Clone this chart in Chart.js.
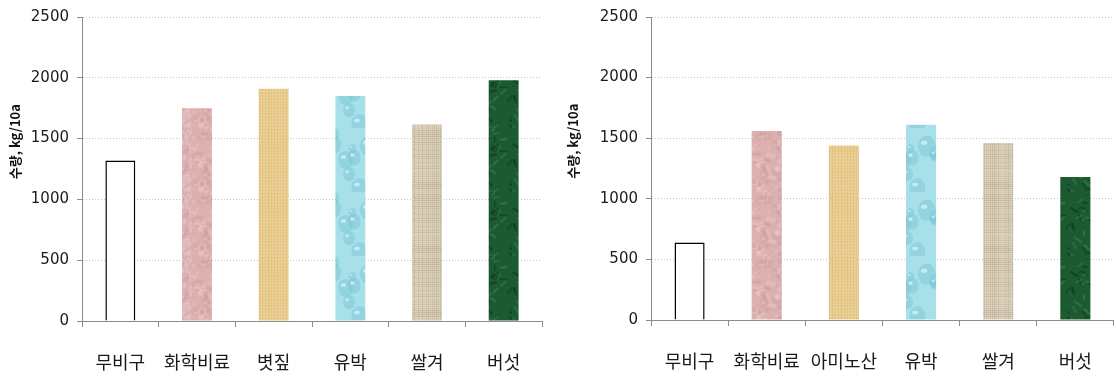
<!DOCTYPE html>
<html>
<head>
<meta charset="utf-8">
<script src="https://cdn.jsdelivr.net/npm/chart.js@4"></script>
<style>
  html, body { margin: 0; padding: 0; background: #fff; }
  .wrap { position: absolute; top: 0; width: 558px; height: 376px; }
  #w1 { left: 0; }
  #w2 { left: 558px; }
</style>
</head>
<body>
<div class="wrap" id="w1"><canvas id="c1" width="558" height="376"></canvas></div>
<div class="wrap" id="w2"><canvas id="c2" width="558" height="376"></canvas></div>
<script>
// chart data
const leftLabels = ['무비구', '화학비료', '볏짚', '유박', '쌀겨', '버섯'];
const leftValues = [1320, 1750, 1910, 1850, 1615, 1980];
const rightLabels = ['무비구', '화학비료', '아미노산', '유박', '쌀겨', '버섯'];
const rightValues = [640, 1560, 1440, 1610, 1460, 1180];
const yTicks = [0, 500, 1000, 1500, 2000, 2500];
const yTitle = '수량, kg/10a';

// simple seeded generator, only used for texture look
let seed = 7;
function rnd() {
    seed = (seed * 16807) % 2147483647;
    return (seed - 1) / 2147483646;
}

function makeTexture(kind) {
    const c = document.createElement('canvas');
    c.width = 64; c.height = 64;
    const g = c.getContext('2d');
    if (kind === 'pink') {
        g.fillStyle = '#dcb0b0'; g.fillRect(0, 0, 64, 64);
        for (let i = 0; i < 220; i++) {
            g.fillStyle = rnd() > 0.5 ? 'rgba(240,205,205,0.35)' : 'rgba(200,150,150,0.3)';
            g.fillRect(rnd() * 64, rnd() * 64, 2 + rnd() * 4, 2 + rnd() * 4);
        }
    } else if (kind === 'tan') {
        g.fillStyle = '#e8cb8e'; g.fillRect(0, 0, 64, 64);
        for (let i = 0; i < 64; i += 3) {
            g.fillStyle = 'rgba(210,170,100,' + (0.15 + rnd() * 0.2) + ')';
            g.fillRect(i, 0, 1, 64);
            g.fillStyle = 'rgba(245,225,175,' + (0.2 + rnd() * 0.2) + ')';
            g.fillRect(0, i, 64, 1);
        }
    } else if (kind === 'aqua') {
        g.fillStyle = '#a8e0ea'; g.fillRect(0, 0, 64, 64);
        for (let i = 0; i < 14; i++) {
            const x = rnd() * 64, y = rnd() * 64, r = 3 + rnd() * 6;
            g.fillStyle = 'rgba(120,195,210,0.45)';
            g.beginPath(); g.ellipse(x, y, r, r * 1.2, 0, 0, Math.PI * 2); g.fill();
            g.fillStyle = 'rgba(235,252,255,0.6)';
            g.beginPath(); g.ellipse(x - r * 0.3, y - r * 0.4, r * 0.35, r * 0.25, 0, 0, Math.PI * 2); g.fill();
        }
    } else if (kind === 'linen') {
        g.fillStyle = '#ddd2bc'; g.fillRect(0, 0, 64, 64);
        for (let i = 0; i < 64; i += 2) {
            g.fillStyle = 'rgba(150,135,110,' + (rnd() * 0.3) + ')';
            g.fillRect(i, 0, 1, 64);
            g.fillStyle = 'rgba(150,135,110,' + (rnd() * 0.3) + ')';
            g.fillRect(0, i, 64, 1);
        }
    } else if (kind === 'green') {
        g.fillStyle = '#1c5a32'; g.fillRect(0, 0, 64, 64);
        for (let i = 0; i < 60; i++) {
            g.strokeStyle = rnd() > 0.5 ? 'rgba(80,150,100,0.35)' : 'rgba(10,50,25,0.5)';
            g.lineWidth = 1 + rnd() * 1.5;
            g.beginPath();
            const x = rnd() * 64, y = rnd() * 64;
            g.moveTo(x, y);
            g.lineTo(x + (rnd() - 0.5) * 16, y + (rnd() - 0.5) * 16);
            g.stroke();
        }
    }
    return g.createPattern(c, 'repeat');
}

const fills = ['#ffffff', makeTexture('pink'), makeTexture('tan'), makeTexture('aqua'), makeTexture('linen'), makeTexture('green')];
const borders = ['#000000', 'rgba(0,0,0,0)', 'rgba(0,0,0,0)', 'rgba(0,0,0,0)', 'rgba(0,0,0,0)', 'rgba(0,0,0,0)'];

// y axis title drawn by hand so it can sit a bit above the middle
const yTitlePlugin = {
    id: 'yTitle',
    afterDraw(chart) {
        const ctx = chart.ctx;
        const area = chart.chartArea;
        ctx.save();
        ctx.translate(15, area.top + (area.bottom - area.top) * 0.41);
        ctx.rotate(-Math.PI / 2);
        ctx.font = 'bold 13px "Noto Sans CJK KR"';
        ctx.fillStyle = '#111';
        ctx.textAlign = 'center';
        ctx.textBaseline = 'middle';
        ctx.fillText(yTitle, 0, 0);
        ctx.restore();
    }
};

function buildChart(id, labels, values, axisX, rightPad, top, bottom) {
    const ctx = document.getElementById(id).getContext('2d');
    return new Chart(ctx, {
        type: 'bar',
        data: {
            labels: labels,
            datasets: [{
                data: values,
                backgroundColor: fills,
                borderColor: borders,
                borderWidth: [1.5, 0, 0, 0, 0, 0],
                barPercentage: 0.39,
                categoryPercentage: 1
            }]
        },
        options: {
            responsive: false,
            animation: false,
            events: [],
            layout: { padding: { top: top, right: rightPad, left: 0, bottom: 0 } },
            plugins: { legend: { display: false }, tooltip: { enabled: false } },
            scales: {
                x: {
                    afterFit: s => { s.height = 376 - bottom; },
                    grid: { drawOnChartArea: false, drawTicks: true, tickLength: 6, offset: true, color: '#8c8c8c' },
                    border: { color: '#8c8c8c', width: 1 },
                    ticks: { padding: 24, color: '#1a1a1a', font: { family: '"Noto Sans CJK KR"', size: 18 }, maxRotation: 0, autoSkip: false }
                },
                y: {
                    min: 0, max: 2500,
                    afterFit: s => { s.width = axisX; },
                    afterBuildTicks: s => { s.ticks = yTicks.map(v => ({ value: v })); },
                    grid: { color: '#c4c4c4', tickColor: '#8c8c8c', tickLength: 5, tickBorderDash: [] },
                    border: { color: '#8c8c8c', width: 1, dash: [1, 2] },
                    ticks: { padding: 8, color: '#1a1a1a', font: { family: '"DejaVu Sans"', size: 15 }, callback: v => String(v) }
                }
            }
        },
        plugins: [yTitlePlugin]
    });
}

buildChart('c1', leftLabels, leftValues, 82, 16, 15, 321);
buildChart('c2', rightLabels, rightValues, 93, 1, 16, 320);
</script>
</body>
</html>
